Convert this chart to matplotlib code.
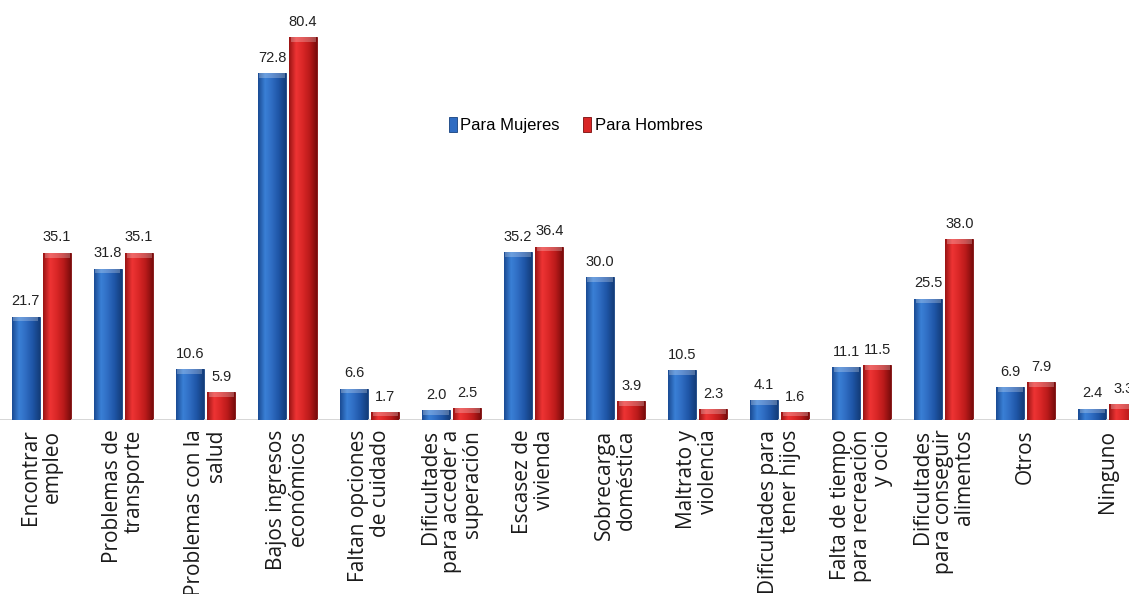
import numpy as np
import matplotlib.pyplot as plt
from matplotlib.colors import LinearSegmentedColormap

# Data
categorias = [
    "Encontrar\nempleo",
    "Problemas de\ntransporte",
    "Problemas con la\nsalud",
    "Bajos ingresos\neconómicos",
    "Faltan opciones\nde cuidado",
    "Dificultades\npara acceder a\nsuperación",
    "Escasez de\nvivienda",
    "Sobrecarga\ndoméstica",
    "Maltrato y\nviolencia",
    "Dificultades para\ntener hijos",
    "Falta de tiempo\npara recreación\ny ocio",
    "Dificultades\npara conseguir\nalimentos",
    "Otros",
    "Ninguno",
]
mujeres = [21.7, 31.8, 10.6, 72.8, 6.6, 2.0, 35.2, 30.0, 10.5, 4.1, 11.1, 25.5, 6.9, 2.4]
hombres = [35.1, 35.1, 5.9, 80.4, 1.7, 2.5, 36.4, 3.9, 2.3, 1.6, 11.5, 38.0, 7.9, 3.3]

# Gradient colormaps for the shaded bars
cmap_azul = LinearSegmentedColormap.from_list(
    "azul", ["#1a4b93", "#3a80d6", "#2f6cc2", "#1e55a6", "#143d7a"])
cmap_rojo = LinearSegmentedColormap.from_list(
    "rojo", ["#9a1414", "#ee3434", "#d92626", "#b81a1a", "#7a0c0c"])

fig = plt.figure(figsize=(11.29, 5.94), dpi=100)
ax = fig.add_axes([0, 0.293, 1, 0.707])

x = np.arange(len(categorias))
ancho = 0.34
sep = 0.02

barras_m = ax.bar(x - ancho / 2 - sep, mujeres, ancho, color="#2f6cc2",
                  edgecolor="#16407e", linewidth=0.6, label="Para Mujeres")
barras_h = ax.bar(x + ancho / 2 + sep, hombres, ancho, color="#d92626",
                  edgecolor="#7a0c0c", linewidth=0.6, label="Para Hombres")

ax.set_xlim(-0.506, 13.26)
ax.set_ylim(0, 88.2)

# shading inside each bar
grad = np.linspace(0, 1, 64).reshape(1, -1)
for barras, cmap in [(barras_m, cmap_azul), (barras_h, cmap_rojo)]:
    for b in barras:
        x0, y0 = b.get_x(), b.get_y()
        w, h = b.get_width(), b.get_height()
        im = ax.imshow(grad, cmap=cmap, aspect="auto",
                       extent=[x0, x0 + w, y0, y0 + h], zorder=2)
        im.set_clip_path(b)
        # lighter cap on top
        cap = min(1.0, h * 0.5)
        ax.bar(x0 + w / 2, cap, w * 0.9, bottom=y0 + h - cap,
               color="white", alpha=0.25, linewidth=0, zorder=3)

# value labels
for barras, vals in [(barras_m, mujeres), (barras_h, hombres)]:
    for b, v in zip(barras, vals):
        ax.annotate(f"{v:.1f}", (b.get_x() + b.get_width() / 2, b.get_height()),
                    xytext=(0, 6), textcoords="offset points",
                    ha="center", va="bottom", fontsize=10.5,
                    family="Liberation Sans", color="#222222")

ax.axhline(0, color="#cfcfcf", linewidth=1.2, zorder=1)

for s in ax.spines.values():
    s.set_visible(False)
ax.set_yticks([])
ax.set_xticks(x)
ax.set_xticklabels(categorias, rotation=90, ha="center", va="top",
                   multialignment="right", fontsize=15, family="Open Sans",
                   color="#1a1a1a", linespacing=1.02)
ax.tick_params(axis="x", length=0, pad=7)

leg = ax.legend(loc="upper left", bbox_to_anchor=(0.384, 0.757), ncol=2,
                frameon=False, handlelength=0.5, handleheight=1.0,
                handletextpad=0.2, columnspacing=1.4,
                prop={"family": "Liberation Sans", "size": 12})

fig.savefig("out.png", dpi=100)
